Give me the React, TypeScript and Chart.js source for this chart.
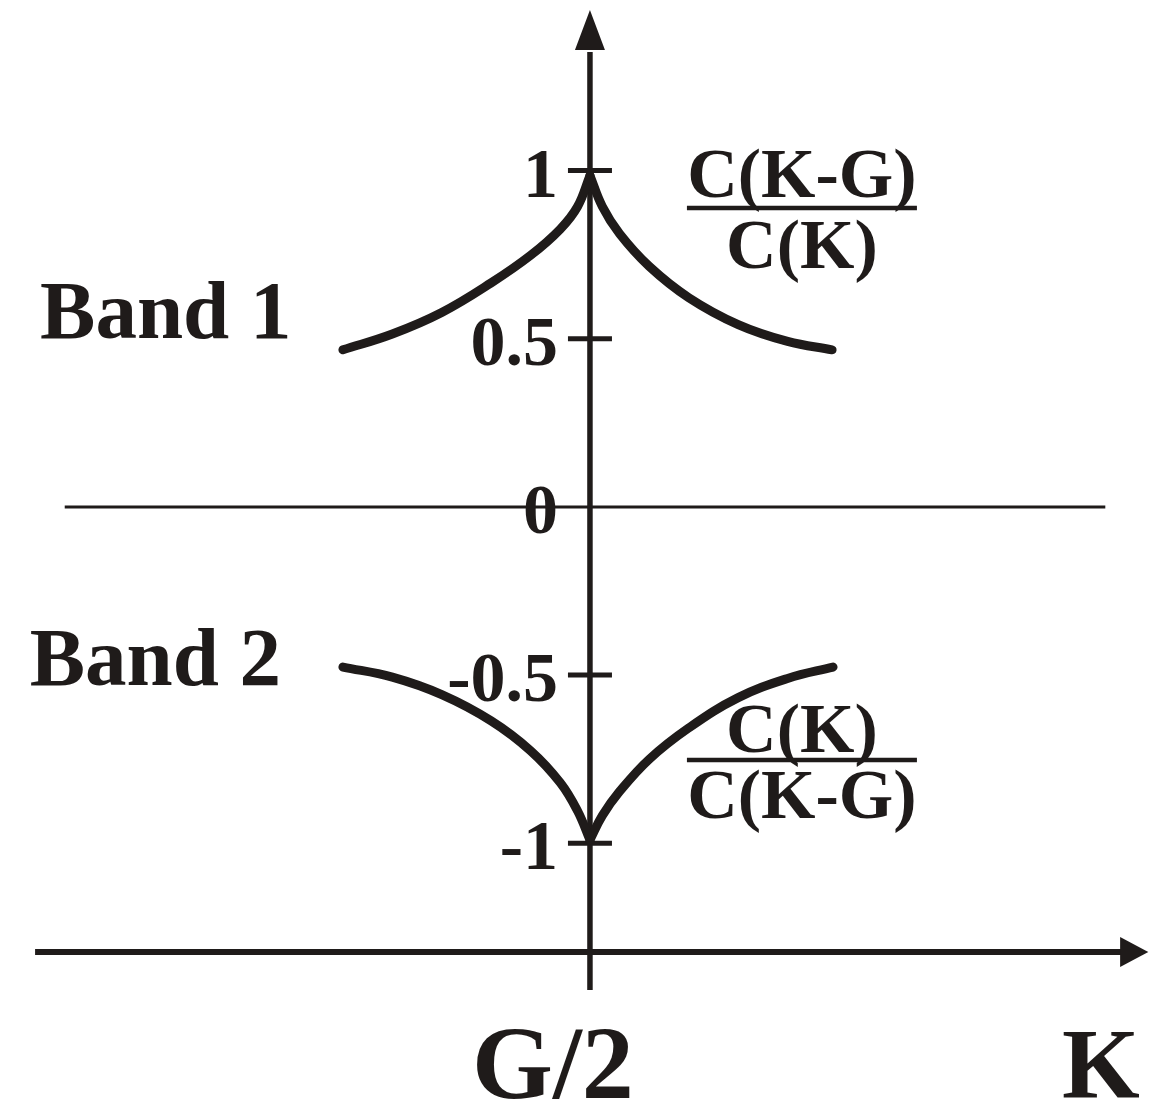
import React, { useEffect, useRef } from "react";
import { Chart, registerables } from "chart.js";

Chart.register(...registerables);

// Band 1 (upper branch): C(K-G)/C(K) on both sides of G/2
const band1LeftK = [-0.5, -0.4, -0.3, -0.2, -0.12, -0.06, -0.025, 0];
const band1LeftVal = [0.467, 0.514, 0.578, 0.666, 0.748, 0.826, 0.893, 0.985];
const band1RightK = [0, 0.025, 0.06, 0.12, 0.2, 0.3, 0.4, 0.49];
const band1RightVal = [0.985, 0.893, 0.812, 0.715, 0.622, 0.542, 0.492, 0.467];

// Band 2 (lower branch): C(K)/C(K-G)
const band2LeftK = [-0.5, -0.4, -0.3, -0.2, -0.12, -0.06, -0.025, 0];
const band2LeftVal = [-0.476, -0.506, -0.558, -0.636, -0.725, -0.82, -0.904, -0.99];
const band2RightK = [0, 0.025, 0.06, 0.12, 0.2, 0.3, 0.4, 0.492];
const band2RightVal = [-0.99, -0.918, -0.846, -0.75, -0.657, -0.567, -0.51, -0.476];

// Vertical axis ticks
const yTickValues = [1, 0.5, 0, -0.5, -1];
const yTickLabels = ["1", "0.5", "0", "-0.5", "-1"];

// Axis extents (data units)
const xMin = -1.194;
const xMax = 1.18;
const yMin = -1.778;
const yMax = 1.507;
const vAxisFrom = -1.436;
const vAxisTip = 1.477;
const vArrowBase = 1.358;
const hAxisAt = -1.323;
const hAxisFrom = -1.123;
const hAxisTip = 1.13;
const hArrowBase = 1.073;
const zeroLineFrom = -1.063;
const zeroLineTo = 1.043;

const INK = "#1f1b1a";
const FONT = '"Liberation Serif", "Times New Roman", serif';

const toPoints = (xs: number[], ys: number[]) => xs.map((x, i) => ({ x, y: ys[i] }));

const axesPlugin = {
  id: "bandAxes",
  beforeDatasetsDraw(chart: any) {
    const { ctx, scales } = chart;
    const xs = scales.x;
    const ys = scales.y;
    const ax = xs.getPixelForValue(0);
    ctx.save();
    ctx.strokeStyle = INK;
    ctx.fillStyle = INK;
    ctx.lineCap = "butt";

    // zero line
    ctx.lineWidth = 3;
    ctx.beginPath();
    ctx.moveTo(xs.getPixelForValue(zeroLineFrom), ys.getPixelForValue(0));
    ctx.lineTo(xs.getPixelForValue(zeroLineTo), ys.getPixelForValue(0));
    ctx.stroke();

    // vertical axis with arrow
    ctx.lineWidth = 5.5;
    ctx.beginPath();
    ctx.moveTo(ax, ys.getPixelForValue(vAxisFrom));
    ctx.lineTo(ax, ys.getPixelForValue(vArrowBase) + 2);
    ctx.stroke();
    const tipY = ys.getPixelForValue(vAxisTip);
    const baseY = ys.getPixelForValue(vArrowBase);
    ctx.beginPath();
    ctx.moveTo(ax, tipY);
    ctx.lineTo(ax - 15, baseY);
    ctx.lineTo(ax + 15, baseY);
    ctx.closePath();
    ctx.fill();

    // horizontal axis with arrow
    const hy = ys.getPixelForValue(hAxisAt);
    ctx.lineWidth = 6;
    ctx.beginPath();
    ctx.moveTo(xs.getPixelForValue(hAxisFrom), hy);
    ctx.lineTo(xs.getPixelForValue(hArrowBase) + 2, hy);
    ctx.stroke();
    const tipX = xs.getPixelForValue(hAxisTip);
    const baseX = xs.getPixelForValue(hArrowBase);
    ctx.beginPath();
    ctx.moveTo(tipX, hy);
    ctx.lineTo(baseX, hy - 15);
    ctx.lineTo(baseX, hy + 15);
    ctx.closePath();
    ctx.fill();

    // tick marks crossing the vertical axis
    ctx.lineWidth = 5;
    yTickValues.forEach((v) => {
      if (v === 0) return;
      const py = ys.getPixelForValue(v);
      ctx.beginPath();
      ctx.moveTo(ax - 22, py);
      ctx.lineTo(ax + 22, py);
      ctx.stroke();
    });
    ctx.restore();
  },
  afterDatasetsDraw(chart: any) {
    const { ctx, scales } = chart;
    const xs = scales.x;
    const ys = scales.y;
    const ax = xs.getPixelForValue(0);
    ctx.save();
    ctx.fillStyle = INK;
    ctx.strokeStyle = INK;

    // tick labels
    ctx.font = `bold 70px ${FONT}`;
    ctx.textAlign = "right";
    ctx.textBaseline = "alphabetic";
    yTickValues.forEach((v, i) => {
      ctx.fillText(yTickLabels[i], ax - 32, ys.getPixelForValue(v) + 26);
    });

    // band names
    ctx.font = `bold 83px ${FONT}`;
    ctx.textAlign = "left";
    ctx.fillText("Band 1", xs.getPixelForValue(-1.113), ys.getPixelForValue(0.502));
    ctx.fillText("Band 2", xs.getPixelForValue(-1.134), ys.getPixelForValue(-0.529));

    // ratio labels
    const fraction = (cx: number, numBase: number, bar: number, denBase: number, num: string, den: string) => {
      const px = xs.getPixelForValue(cx);
      ctx.font = `bold 70px ${FONT}`;
      ctx.textAlign = "center";
      ctx.fillText(num, px, ys.getPixelForValue(numBase));
      ctx.fillText(den, px, ys.getPixelForValue(denBase));
      ctx.lineWidth = 4.5;
      ctx.beginPath();
      ctx.moveTo(px - 115, ys.getPixelForValue(bar));
      ctx.lineTo(px + 115, ys.getPixelForValue(bar));
      ctx.stroke();
    };
    fraction(0.429, 0.921, 0.889, 0.71, "C(K-G)", "C(K)");
    fraction(0.429, -0.728, -0.752, -0.924, "C(K)", "C(K-G)");

    // horizontal axis labels
    ctx.font = `bold 104px ${FONT}`;
    ctx.textAlign = "center";
    ctx.fillText("G/2", xs.getPixelForValue(-0.075), ys.getPixelForValue(-1.757));
    ctx.font = `bold 100px ${FONT}`;
    ctx.fillText("K", xs.getPixelForValue(1.034), ys.getPixelForValue(-1.754));
    ctx.restore();
  },
};

export default function App() {
  const canvasRef = useRef<HTMLCanvasElement | null>(null);

  useEffect(() => {
    if (!canvasRef.current) return;
    const lineStyle = {
      showLine: true,
      borderColor: INK,
      borderWidth: 9,
      borderCapStyle: "round" as const,
      borderJoinStyle: "round" as const,
      pointRadius: 0,
      tension: 0.4,
      fill: false,
      clip: false as any,
    };
    const chart = new Chart(canvasRef.current, {
      type: "scatter",
      data: {
        datasets: [
          { label: "Band 1 left", data: toPoints(band1LeftK, band1LeftVal), ...lineStyle },
          { label: "Band 1 right", data: toPoints(band1RightK, band1RightVal), ...lineStyle },
          { label: "Band 2 left", data: toPoints(band2LeftK, band2LeftVal), ...lineStyle },
          { label: "Band 2 right", data: toPoints(band2RightK, band2RightVal), ...lineStyle },
        ],
      },
      options: {
        animation: false,
        responsive: false,
        maintainAspectRatio: false,
        layout: { padding: 0 },
        plugins: { legend: { display: false }, tooltip: { enabled: false } },
        scales: {
          x: { type: "linear", min: xMin, max: xMax, display: false },
          y: { type: "linear", min: yMin, max: yMax, display: false },
        },
      },
      plugins: [axesPlugin],
    });
    return () => chart.destroy();
  }, []);

  return (
    <div style={{ position: "absolute", left: 0, top: 0, width: 1173, height: 1105, background: "#ffffff" }}>
      <canvas ref={canvasRef} width={1173} height={1105} style={{ display: "block" }} />
    </div>
  );
}
